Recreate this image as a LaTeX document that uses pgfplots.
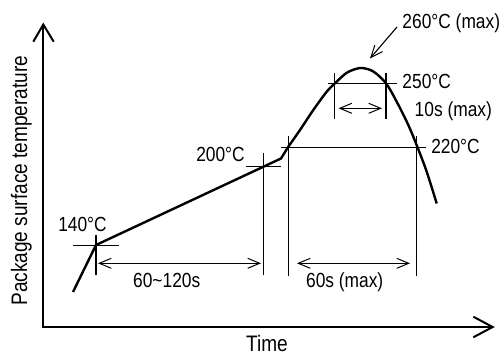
\documentclass[border=0pt]{standalone}
\usepackage{pgfplots}
\pgfplotsset{compat=1.18}
\usepackage{fontspec}
\setmainfont{Liberation Sans}[FakeStretch=0.85]
\usetikzlibrary{arrows.meta}
\tikzset{
  thinl/.style={black, line width=1.1bp},
  lbl/.style={font=\fontsize{20.5}{23}\selectfont, inner sep=0pt, anchor=base},
  big/.style={font=\fontsize{22.5}{25}\selectfont, inner sep=0pt, anchor=base},
  barb/.style={thinl, {Straight Barb[length=12bp,width=10bp,line width=1bp]}-{Straight Barb[length=12bp,width=10bp,line width=1bp]}}
}
\begin{document}
\begin{tikzpicture}
\useasboundingbox (0,0) rectangle (503bp,356bp);
\begin{axis}[
  scale only axis, width=503bp, height=356bp,
  xmin=0, xmax=503, ymin=0, ymax=356, y dir=reverse,
  hide axis, clip=false
]
% axes
\addplot[black, line width=2bp] coordinates {(43.3,24.5) (43.3,327) (492.5,327)};
\addplot[black, line width=2bp] coordinates {(33.3,41.7) (43.3,24.5) (53.7,41.7)};
\addplot[black, line width=2bp] coordinates {(473.3,316.7) (492.7,327) (473.3,337.3)};
% profile curve
\addplot[black, line width=2.4bp] coordinates {(73,292) (96,245) (281,158.5) (288.3,146.7)};
\addplot[black, line width=2.4bp, smooth, tension=0.5] coordinates {
 (288.3,146.7) (300,130) (313.3,110) (326.7,91.7) (335,83.3) (347,72.6) (360.5,68) (373,71.3) (386,83.3) (396.7,101.7) (408.3,125) (417.3,146.7) (426.7,171.7) (436.7,203.5)};
% guide lines
\addplot[thinl] coordinates {(72.7,245.7) (119.3,245.7)};
\addplot[thinl] coordinates {(96,235) (96,275)};
\addplot[thinl] coordinates {(246,166.7) (281,166.7)};
\addplot[thinl] coordinates {(263.3,153) (263.3,275)};
\addplot[thinl] coordinates {(281,147.3) (426,147.3)};
\addplot[thinl] coordinates {(288.3,136) (288.3,276)};
\addplot[thinl] coordinates {(416.7,136) (416.7,276)};
\addplot[thinl] coordinates {(328,83.3) (397,83.3)};
\addplot[thinl] coordinates {(334.3,73) (334.3,119)};
\addplot[thinl] coordinates {(386,73) (386,119)};
% double arrows
\addplot[barb] coordinates {(98,263.3) (261,263.3)};
\addplot[barb] coordinates {(297,263.3) (410,263.3)};
\addplot[barb] coordinates {(338.5,108.3) (382,108.3)};
\addplot[thinl, -{Straight Barb[length=12bp,width=10bp,line width=1bp]}] coordinates {(397,27) (370,58.5)};
% labels
\node[lbl] at (axis cs:451.3,28.3) {260°C (max)};
\node[lbl] at (axis cs:426.7,88.3) {250°C};
\node[lbl] at (axis cs:453.3,116.7) {10s (max)};
\node[lbl] at (axis cs:455.5,153.3) {220°C};
\node[lbl] at (axis cs:220.5,161) {200°C};
\node[lbl] at (axis cs:82.5,231.7) {140°C};
\node[lbl] at (axis cs:166.7,287.3) {60\textasciitilde 120s};
\node[lbl] at (axis cs:344.7,287.3) {60s (max)};
\node[big] at (axis cs:267,351) {Time};
\node[big, rotate=90] at (axis cs:27,180.7) {Package surface temperature};
\end{axis}
\end{tikzpicture}
\end{document}
